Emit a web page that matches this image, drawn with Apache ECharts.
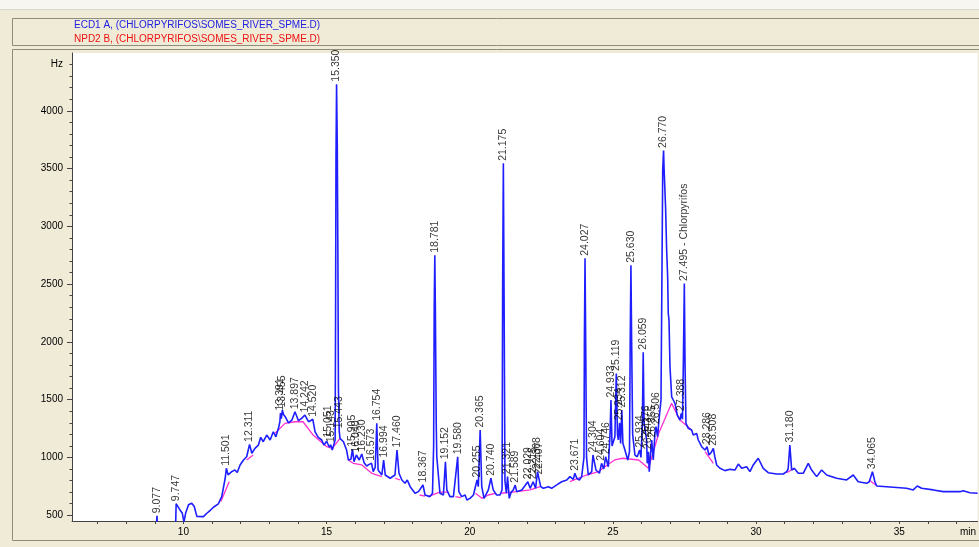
<!DOCTYPE html>
<html>
<head>
<meta charset="utf-8">
<script src="https://cdn.jsdelivr.net/npm/echarts@6/dist/echarts.min.js"></script>
<style>
html,body{margin:0;padding:0;background:#EFEBD7;}
#main{width:979px;height:547px;}
</style>
</head>
<body>
<div id="main"></div>
<script>
// ECD1 A signal: [retention time (min), response (Hz)]
const ecdTrace = [
[8.80,420],[9.060,420],[9.077,495],[9.095,420],[9.730,420],[9.747,600],[9.80,585],[9.88,546],[9.96,520],[10.02,440],
[10.08,520],[10.18,590],[10.29,604],[10.38,575],[10.47,490],[10.70,488],[10.82,517],[10.95,545],[11.05,569],[11.22,598],
[11.34,661],[11.46,820],[11.501,906],[11.56,850],[11.61,834],[11.69,877],[11.80,891],[11.88,870],[11.98,935],[12.10,978],
[12.21,1006],[12.311,1113],[12.39,1036],[12.50,1079],[12.62,1107],[12.70,1174],[12.79,1136],[12.91,1194],[13.03,1151],[13.14,1222],
[13.23,1179],[13.32,1252],[13.37,1309],[13.391,1385],[13.42,1335],[13.455,1410],[13.50,1370],[13.56,1352],[13.67,1300],[13.79,1324],
[13.897,1395],[14.02,1318],[14.13,1338],[14.242,1367],[14.37,1309],[14.45,1320],[14.520,1330],[14.60,1222],[14.71,1174],[14.83,1151],
[14.91,1107],[15.00,1140],[15.051,1151],[15.10,1088],[15.143,1110],[15.20,1064],[15.25,1079],[15.30,1150],[15.315,2200],[15.330,3600],
[15.350,4230],[15.375,3700],[15.395,2800],[15.415,1600],[15.443,1230],[15.47,1165],[15.53,1150],[15.59,1136],[15.70,1064],[15.76,978],
[15.85,984],[15.905,1070],[15.96,963],[16.040,1021],[16.14,978],[16.230,1030],[16.31,955],[16.40,926],[16.49,940],[16.573,949],
[16.63,877],[16.70,915],[16.754,1295],[16.80,892],[16.93,848],[16.994,978],[17.05,848],[17.22,820],[17.39,848],[17.460,1064],
[17.53,863],[17.63,805],[17.74,777],[17.82,805],[17.92,747],[18.09,690],[18.21,704],[18.367,762],[18.44,675],[18.61,661],
[18.70,690],[18.74,1100],[18.760,2300],[18.781,2750],[18.80,2300],[18.83,1300],[18.85,1006],[18.96,690],[19.08,675],[19.152,963],
[19.20,719],[19.31,661],[19.43,661],[19.580,1006],[19.62,704],[19.72,661],[19.84,675],[19.90,632],[20.01,646],[20.13,675],
[20.255,805],[20.30,747],[20.365,1237],[20.42,747],[20.50,646],[20.65,719],[20.740,820],[20.82,719],[20.94,675],[21.06,675],
[21.13,720],[21.15,2500],[21.175,3545],[21.20,2400],[21.23,800],[21.28,690],[21.321,834],[21.38,646],[21.45,700],[21.52,719],
[21.589,760],[21.64,704],[21.82,719],[22.029,790],[22.11,733],[22.215,790],[22.30,733],[22.368,877],[22.407,830],[22.48,747],
[22.57,733],[22.75,747],[22.86,733],[23.04,762],[23.21,790],[23.39,805],[23.50,834],[23.617,810],[23.671,863],[23.74,820],
[23.83,805],[23.91,834],[23.99,1000],[24.005,2000],[24.027,2724],[24.05,2000],[24.08,1000],[24.14,848],[24.26,877],[24.304,1021],
[24.41,891],[24.53,863],[24.604,949],[24.68,900],[24.746,1006],[24.84,920],[24.90,1200],[24.933,1497],[24.97,1100],[25.07,1179],
[25.119,1727],[25.16,1200],[25.19,1151],[25.234,1300],[25.27,1122],[25.312,1410],[25.35,1122],[25.42,1064],[25.52,978],[25.58,1050],
[25.605,2000],[25.630,2663],[25.655,2000],[25.69,1200],[25.77,1021],[25.85,1006],[25.934,1064],[25.98,1000],[26.03,1300],[26.059,1911],
[26.09,1300],[26.176,1151],[26.20,949],[26.243,1050],[26.27,877],[26.355,1151],[26.41,978],[26.470,1209],[26.506,1266],[26.56,1180],
[26.62,1350],[26.68,1497],[26.71,2476],[26.74,3484],[26.770,3657],[26.79,3484],[26.84,3167],[26.878,2793],[26.913,2562],[26.934,2248],
[26.96,2188],[26.994,1784],[27.053,1525],[27.109,1497],[27.168,1468],[27.249,1367],[27.343,1324],[27.388,1381],[27.43,1330],[27.46,1800],
[27.495,2505],[27.52,1800],[27.552,1295],[27.633,1252],[27.751,1237],[27.807,1194],[27.926,1208],[27.982,1151],[28.101,1093],[28.216,1064],
[28.286,1093],[28.356,1021],[28.450,1050],[28.508,1079],[28.56,1006],[28.624,935],[28.740,906],[28.914,886],[29.089,897],[29.263,891],
[29.379,943],[29.497,906],[29.672,920],[29.787,877],[29.902,935],[30.077,993],[30.251,906],[30.426,868],[30.719,857],[30.950,857],
[31.069,877],[31.12,900],[31.180,1107],[31.243,891],[31.334,906],[31.474,863],[31.648,863],[31.823,949],[31.941,891],[32.116,834],
[32.290,891],[32.465,848],[32.814,820],[33.163,805],[33.394,848],[33.568,790],[33.862,776],[33.953,790],[34.065,877],[34.151,790],
[34.211,753],[34.560,747],[35.258,733],[35.489,719],[35.629,753],[35.782,733],[36.187,719],[36.536,704],[37.120,704],[37.235,712],
[37.469,695],[37.74,690]
];

// integration baselines, null separates segments
const baselineTrace = [
[11.31,618],[11.60,790],null,
[12.21,978],[12.44,1021],null,
[13.20,1209],[13.55,1295],[13.90,1309],[14.18,1309],[14.53,1194],[15.01,1093],[15.20,1079],[15.47,1165],null,
[15.76,978],[15.93,949],[16.23,935],[16.58,863],[16.93,834],null,
[17.39,820],[17.56,805],null,
[18.25,675],[18.44,666],null,
[18.55,661],[18.95,700],[19.25,700],null,
[19.50,661],[19.70,652],null,
[20.20,690],[20.43,646],[20.65,675],[20.90,690],null,
[21.10,690],[21.64,704],[22.11,719],[22.46,747],null,
[23.50,790],[24.08,848],[24.49,877],[24.89,949],[25.06,978],[25.35,993],[25.90,978],[26.24,906],[26.40,1036],[26.60,1209],[27.05,1468],[27.34,1324],[27.55,1280],[27.75,1237],null,
[28.22,1050],[28.51,949],null,
[31.07,868],[31.33,906],null,
[33.95,805],[34.18,762]
];

// peak annotations
const peakNames = ['9.077','9.747','11.501','12.311','13.391','13.455','13.897','14.242','14.520','15.051','15.143','15.350','15.443',
'15.905','16.040','16.230','16.573','16.754','16.994','17.460','18.367','18.781','19.152','19.580','20.255','20.365','20.740',
'21.175','21.321','21.589','22.029','22.215','22.368','22.407','23.671','24.027','24.304','24.604','24.746','24.933','25.119',
'25.234','25.312','25.630','25.934','26.059','26.176','26.243','26.355','26.506','26.770','27.388','27.495 - Chlorpyrifos',
'28.286','28.508','31.180','34.065'];
const peakTimes = [9.077,9.747,11.501,12.311,13.391,13.455,13.897,14.242,14.520,15.051,15.143,15.350,15.443,
15.905,16.040,16.230,16.573,16.754,16.994,17.460,18.367,18.781,19.152,19.580,20.255,20.365,20.740,
21.175,21.321,21.589,22.029,22.215,22.368,22.407,23.671,24.027,24.304,24.604,24.746,24.933,25.119,
25.234,25.312,25.630,25.934,26.059,26.176,26.243,26.355,26.506,26.770,27.388,27.495,
28.286,28.508,31.180,34.065];
const peakHeights = [495,600,906,1113,1385,1410,1395,1367,1330,1151,1110,4230,1230,
1070,1021,1030,949,1295,978,1064,762,2750,963,1006,805,1237,820,
3545,834,760,790,790,877,830,863,2724,1021,949,1006,1497,1727,
1300,1410,2663,1064,1911,1151,1050,1151,1266,3657,1381,2505,
1093,1079,1107,877];

const yLabelValues = [500,1000,1500,2000,2500,3000,3500,4000,4400];
const yMajorTicks = [500,1000,1500,2000,2500,3000,3500,4000];
const xLabelValues = [10,15,20,25,30,35,37.4];
const xTickValues = [7,8,9,10,11,12,13,14,15,16,17,18,19,20,21,22,23,24,25,26,27,28,29,30,31,32,33,34,35,36,37];
const yMinorTicks = [];
for (let v = 500; v <= 4400; v += 100) yMinorTicks.push(v);

const titleA = 'ECD1 A, (CHLORPYRIFOS\\SOMES_RIVER_SPME.D)';
const titleB = 'NPD2 B, (CHLORPYRIFOS\\SOMES_RIVER_SPME.D)';

const FONT = 'Liberation Sans, Arial, sans-serif';
const chart = echarts.init(document.getElementById('main'));
const peakData = peakTimes.map((t, i) => ({value: [t, peakHeights[i]], name: peakNames[i]}));

chart.setOption({
  animation: false,
  backgroundColor: '#EFEBD7',
  grid: {left: 72, right: 1.3, top: 53, bottom: 26, show: true, backgroundColor: '#ffffff', borderWidth: 0},
  graphic: [
    {type: 'rect', shape: {x: 0, y: 0, width: 979, height: 9}, style: {fill: '#F7F6F1'}, silent: true},
    {type: 'rect', shape: {x: 0, y: 9, width: 979, height: 1}, style: {fill: '#D8D6CC'}, silent: true},
    {type: 'rect', shape: {x: 12.5, y: 18.5, width: 970, height: 27}, style: {fill: 'none', stroke: '#8E8C7C', lineWidth: 1}, silent: true},
    {type: 'rect', shape: {x: 12.5, y: 49.5, width: 970, height: 491}, style: {fill: 'none', stroke: '#8E8C7C', lineWidth: 1}, silent: true},
    {type: 'text', x: 74, y: 25, style: {text: titleA, fill: '#2020E0', font: '10px ' + FONT, textVerticalAlign: 'middle'}, silent: true},
    {type: 'text', x: 74, y: 39, style: {text: titleB, fill: '#F01010', font: '10px ' + FONT, textVerticalAlign: 'middle'}, silent: true}
  ],
  xAxis: {
    type: 'value', min: 6.11, max: 37.74,
    axisLine: {show: true, onZero: false, lineStyle: {color: '#444', width: 1}},
    axisTick: {show: true, length: 3, customValues: xTickValues, lineStyle: {color: '#444'}},
    axisLabel: {customValues: xLabelValues, margin: 6, color: '#000', fontSize: 10, fontFamily: FONT,
      formatter: v => (v > 37 ? 'min' : String(v))},
    splitLine: {show: false}
  },
  yAxis: [
    {
      type: 'value', min: 450, max: 4500, position: 'left',
      axisLine: {show: true, onZero: false, lineStyle: {color: '#444', width: 1}},
      axisTick: {show: true, length: 5, customValues: yMajorTicks, lineStyle: {color: '#444'}},
      axisLabel: {customValues: yLabelValues, margin: 9, color: '#000', fontSize: 10, fontFamily: FONT,
        formatter: v => (v === 4400 ? 'Hz' : String(v))},
      splitLine: {show: false}
    },
    {
      type: 'value', min: 450, max: 4500, position: 'left',
      axisLine: {show: false},
      axisTick: {show: true, length: 2.5, customValues: yMinorTicks, lineStyle: {color: '#444'}},
      axisLabel: {show: false},
      splitLine: {show: false}
    }
  ],
  series: [
    {
      type: 'line', name: 'baseline', data: baselineTrace, showSymbol: false, connectNulls: false,
      lineStyle: {color: '#FF30D0', width: 1.3}, z: 3, clip: true
    },
    {
      type: 'line', name: 'ECD1 A', data: ecdTrace, showSymbol: false,
      lineStyle: {color: '#1E1EFF', width: 1.6}, z: 4, clip: true
    },
    {
      type: 'scatter', name: 'peaks', data: peakData, symbolSize: 1,
      itemStyle: {color: 'rgba(0,0,0,0)'}, z: 5,
      label: {show: true, position: 'top', distance: 2, rotate: 90, align: 'left', verticalAlign: 'middle',
        formatter: p => p.name, color: '#000', fontSize: 10.5, fontFamily: FONT}
    }
  ]
});
</script>
</body>
</html>
